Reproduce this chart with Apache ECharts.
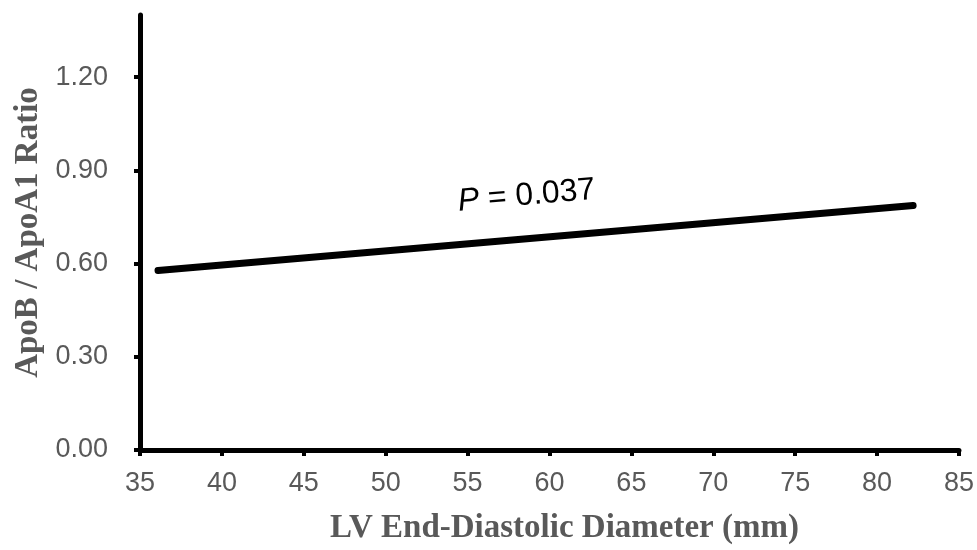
<!DOCTYPE html>
<html>
<head>
<meta charset="utf-8">
<script src="https://cdn.jsdelivr.net/npm/echarts@6/dist/echarts.min.js"></script>
<style>
html,body{margin:0;padding:0;background:#fff;}
#chart{width:977px;height:550px;}
</style>
</head>
<body>
<div id="chart"></div>
<script>
// Data
var xLine = [36.1, 82.2];
var yLine = [0.578, 0.787];
var yTicks = [0, 0.3, 0.6, 0.9, 1.2];
var xTicks = [35, 40, 45, 50, 55, 60, 65, 70, 75, 80, 85];
var annotationPos = [58.6, 0.818];
var annotationText = '{i|P} = 0.037';
var xName = 'LV End-Diastolic Diameter (mm)';
var yName = 'ApoB / ApoA1 Ratio';

var chart = echarts.init(document.getElementById('chart'), null, {renderer: 'canvas'});
var labelColor = '#595959';
var option = {
  backgroundColor: '#ffffff',
  animation: false,
  grid: {left: 140, right: 12, top: 15, bottom: 98},
  xAxis: {
    type: 'value',
    min: 35, max: 85, interval: 5,
    splitLine: {show: false},
    axisLine: {show: true, lineStyle: {color: '#000', width: 5}},
    axisTick: {show: true, length: 6, lineStyle: {color: '#000', width: 4}, customValues: xTicks},
    axisLabel: {color: labelColor, fontSize: 27, fontFamily: 'Liberation Sans', margin: 20, customValues: xTicks},
    name: xName,
    nameLocation: 'middle',
    nameGap: 62,
    nameTextStyle: {color: labelColor, fontSize: 33, fontWeight: 'bold', fontFamily: 'Liberation Serif', padding: [0, 0, 0, 30]}
  },
  yAxis: {
    type: 'value',
    min: 0, max: 1.4, interval: 0.3,
    splitLine: {show: false},
    axisLine: {show: true, lineStyle: {color: '#000', width: 5}},
    axisTick: {show: true, length: 6, lineStyle: {color: '#000', width: 4}, customValues: yTicks},
    axisLabel: {color: labelColor, fontSize: 27, fontFamily: 'Liberation Sans', margin: 32, customValues: yTicks,
      formatter: function (v) { return v.toFixed(2); }},
    name: yName,
    nameLocation: 'middle',
    nameGap: 88,
    nameTextStyle: {color: labelColor, fontSize: 33, fontWeight: 'bold', fontFamily: 'Liberation Serif'}
  },
  series: [{
    type: 'line',
    data: xLine.map(function (x, i) { return [x, yLine[i]]; }),
    showSymbol: false,
    symbol: 'none',
    lineStyle: {color: '#000', width: 7, cap: 'round'},
    markPoint: {
      symbol: 'circle',
      symbolSize: 1,
      itemStyle: {color: 'rgba(0,0,0,0)'},
      data: [{coord: annotationPos}],
      label: {
        show: true,
        position: 'inside',
        rotate: 5,
        formatter: annotationText,
        color: '#000',
        fontSize: 32,
        fontFamily: 'Liberation Sans',
        rich: {
          i: {fontStyle: 'italic', fontSize: 32, fontFamily: 'Liberation Sans', color: '#000'}
        }
      }
    }
  }]
};
chart.setOption(option);
</script>
</body>
</html>
